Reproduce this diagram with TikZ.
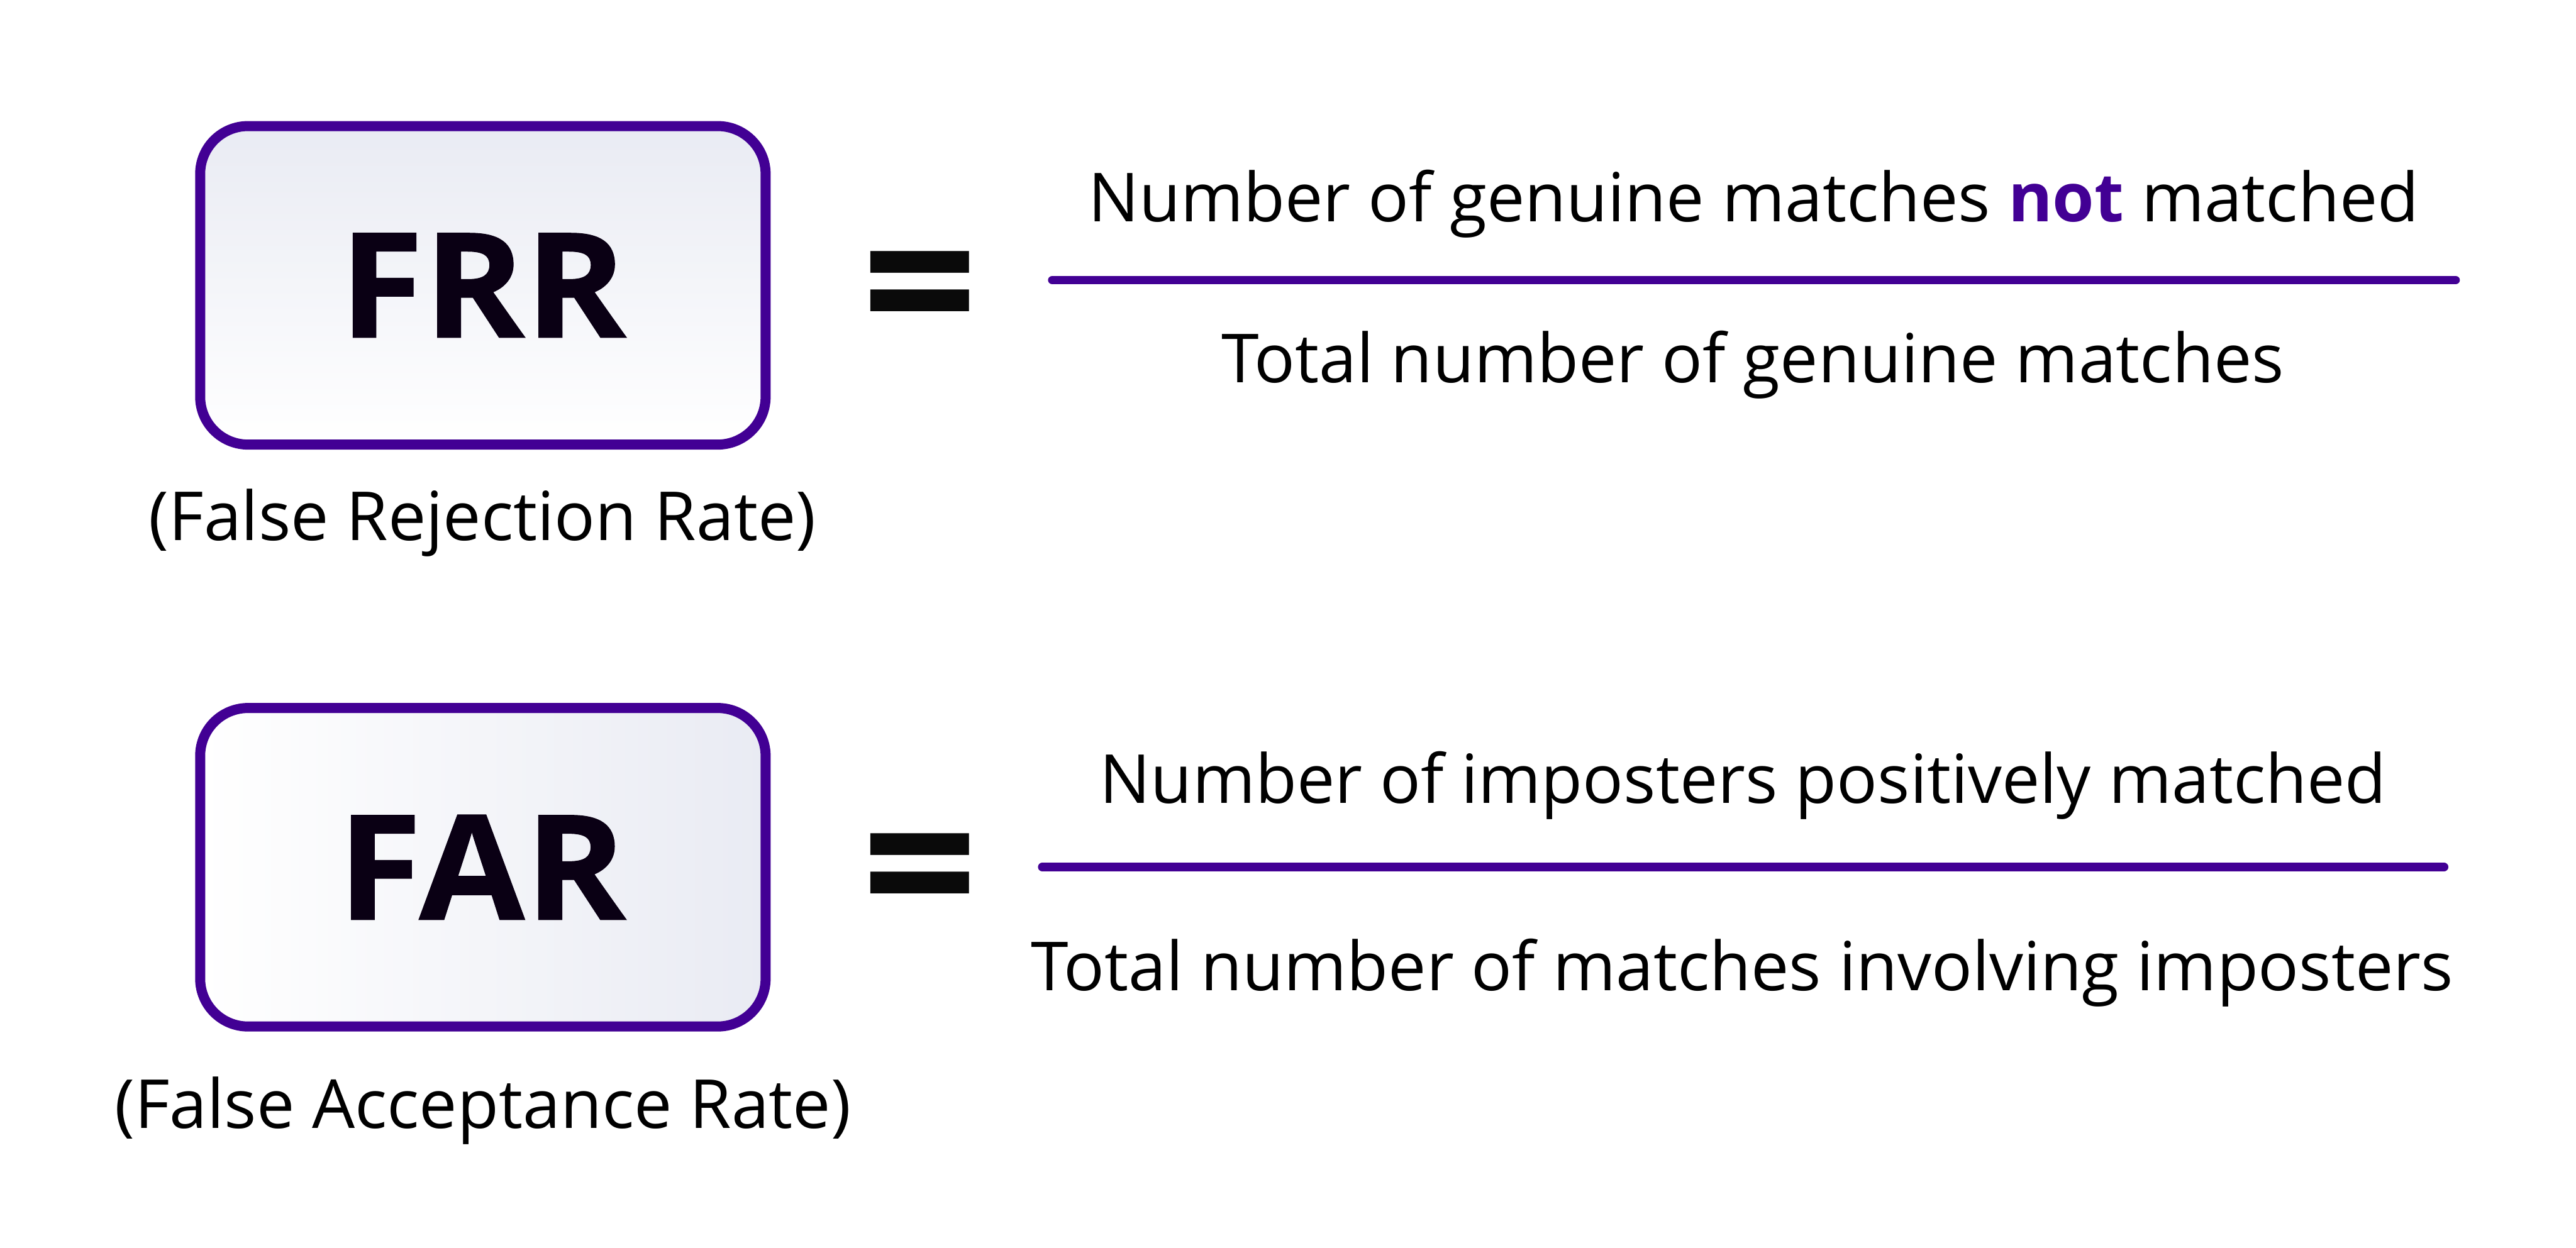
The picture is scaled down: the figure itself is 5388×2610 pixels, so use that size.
\documentclass[tikz,border=0pt]{standalone}
\usepackage{fontspec}
\setmainfont{Open Sans}
\newfontfamily\ratefont[FakeStretch=1.05,FakeBold=0.5]{Open Sans Bold}
\usetikzlibrary{positioning}
\definecolor{barpurple}{HTML}{420094}
\definecolor{inkdark}{HTML}{0A0014}
\definecolor{eqblack}{HTML}{0A0A0A}
\definecolor{paleblue}{HTML}{E9EBF3}
\tikzset{
  ratebox/.style={draw=barpurple,line width=0.21cm,rounded corners=1cm,minimum width=11.82cm,minimum height=6.66cm,inner sep=0pt},
  ratename/.style={text=inkdark,font=\fontsize{87}{87}\ratefont},
  caption/.style={anchor=base,inner sep=0pt,text=black,font=\fontsize{40.25}{40.25}\selectfont},
  equalsign/.style={text=eqblack,inner sep=0pt,font=\fontsize{121}{121}\selectfont\bfseries},
  fracbar/.style={draw=barpurple,line width=0.18cm,line cap=round}
}
\begin{document}
\begin{tikzpicture}[x=0.01cm,y=-0.01cm]
        \useasboundingbox (0,0) rectangle (5388,2610);
        % false rejection
        \node[ratebox,top color=paleblue,bottom color=white] (frr) at (1010,597) {};
        \node[ratename] (frrname) at (1010,597) {FRR};
        \node[caption] (frrcaption) at (1009,1130) {(False Rejection Rate)};
        \node[equalsign] (frreq) at (1924,632) {=};
        \node[caption] (frrtop) at (3668,464) {Number of genuine matches \textcolor{barpurple}{\textbf{not}} matched};
        \node[caption] (frrbottom) at (3666,801) {Total number of genuine matches};
        \coordinate (frrbarl) at (2201,586);
        \coordinate (frrbarr) at (5136,586);
        \draw[fracbar] (frrbarl) -- (frrbarr);
        % false acceptance
        \node[ratebox,left color=white,right color=paleblue] (far) at (1010,1814.5) {};
        \node[ratename] (farname) at (1008,1814.5) {FAR};
        \node[caption] (farcaption) at (1010,2361) {(False Acceptance Rate)};
        \node[equalsign] (fareq) at (1924,1850) {=};
        \node[caption] (fartop) at (3646,1681) {Number of imposters positively matched};
        \node[caption] (farbottom) at (3644,2072) {Total number of matches involving imposters};
        \coordinate (farbarl) at (2180,1814);
        \coordinate (farbarr) at (5112,1814);
        \draw[fracbar] (farbarl) -- (farbarr);
    \end{tikzpicture}
\end{document}
